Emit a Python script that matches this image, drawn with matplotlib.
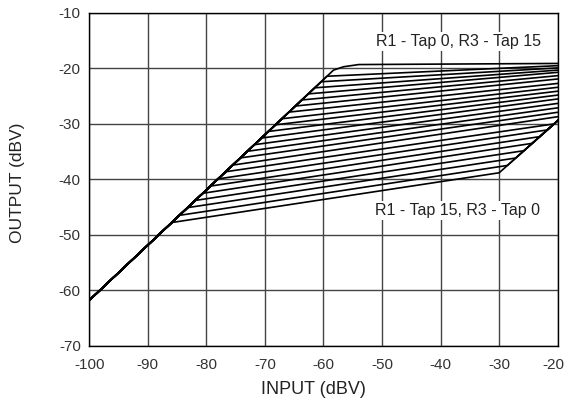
import matplotlib
matplotlib.use("Agg")
import matplotlib.pyplot as plt
import matplotlib.transforms as mtransforms
import numpy as np

plt.rcParams['font.family'] = ['Liberation Sans', 'DejaVu Sans']
plt.rcParams['axes.unicode_minus'] = False

# common 1:1 path at low levels
diag_in = [-100, -60]
diag_out = [-61.8, -22.0]

# knee point (input) where each curve leaves the diagonal, top curve first
knee_in = [-58.3, -59.4, -60.4, -61.5, -62.6, -63.7, -64.8, -65.9,
           -67.1, -68.2, -69.4, -70.6, -71.8, -73.0, -74.2, -75.5,
           -76.7, -78.0, -79.3, -80.6, -81.9, -83.2, -84.6, -85.9]
# output of each curve at -20 dBV input (before the lower limit)
end_out = [-19.1, -19.5, -19.9, -20.3, -20.7, -21.3, -21.9, -22.7,
           -23.4, -24.1, -24.8, -25.5, -26.3, -27.1, -27.9, -28.7,
           -29.9, -30.8, -31.8, -32.8, -33.9, -35.0, -36.1, -37.2]

# lower limit line on the right
floor_in = [-30.0, -20.0]
floor_out = [-38.8, -29.4]

# rounded knee of the top curve
top_in = [-58.3, -56.6, -54.0, -20.0]
top_out = [-20.7, -19.7, -19.3, -19.1]


def diag(x):
    return diag_out[0] + (x - diag_in[0]) * (diag_out[1] - diag_out[0]) / (diag_in[1] - diag_in[0])


fig, ax = plt.subplots(figsize=(5.68, 4.05), dpi=100)
fig.subplots_adjust(left=0.157, right=0.982, bottom=0.146, top=0.968)

fs = (floor_out[1] - floor_out[0]) / (floor_in[1] - floor_in[0])
for i, (kx, ey) in enumerate(zip(knee_in, end_out)):
    ky = diag(kx)
    xs = [-100, kx]
    ys = [diag_out[0], ky]
    if i == 0:
        xs += top_in[1:]
        ys += top_out[1:]
    elif ey < floor_out[1]:
        slope = (ey - ky) / (-20 - kx)
        # where the curve meets the lower limit line
        xc = (floor_out[0] - ky + slope * kx - fs * floor_in[0]) / (slope - fs)
        xs += [xc, -20]
        ys += [ky + slope * (xc - kx), floor_out[1]]
    else:
        xs += [-20]
        ys += [ey]
    ax.plot(xs, ys, color='black', lw=1.2, solid_joinstyle='round', zorder=3)

ax.set_xlim(-100, -20)
ax.set_ylim(-70, -10)
ax.set_xticks(np.arange(-100, -19, 10))
ax.set_yticks(np.arange(-70, -9, 10))
ax.grid(True, color='#444444', lw=1.0)
ax.tick_params(length=0, labelsize=11, colors='#333333')
ax.tick_params(axis='x', pad=9)
ax.tick_params(axis='y', pad=6)
for s in ax.spines.values():
    s.set_color('black')
    s.set_linewidth(1.0)

# keep the last x tick label inside the figure
last = ax.get_xticklabels()[-1]
last.set_transform(last.get_transform() +
                   mtransforms.ScaledTranslation(-4 / 100, 0, fig.dpi_scale_trans))

ax.set_xlabel('INPUT (dBV)', fontsize=13, color='#222222', labelpad=8)
ax.xaxis.set_label_coords(0.478, -0.105)
ax.set_ylabel('OUTPUT (dBV)', fontsize=12.5, color='#222222')
ax.yaxis.set_label_coords(-0.137, 0.49)

box = dict(facecolor='white', edgecolor='none', pad=1.5)
ax.text(-36.9, -15.2, 'R1 - Tap 0, R3 - Tap 15', ha='center', va='center',
        fontsize=11.5, color='#222222', bbox=box, zorder=4)
ax.text(-37.1, -45.6, 'R1 - Tap 15, R3 - Tap 0', ha='center', va='center',
        fontsize=11.5, color='#222222', bbox=box, zorder=4)

fig.savefig('out.png', dpi=100)
